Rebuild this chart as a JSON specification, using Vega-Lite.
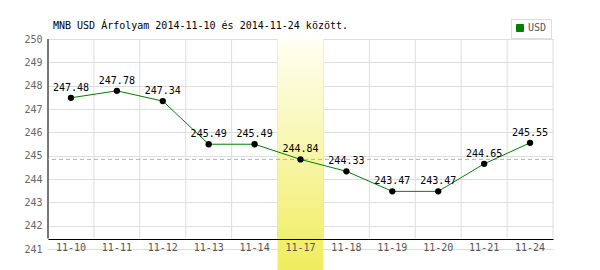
{
  "$schema": "https://vega.github.io/schema/vega-lite/v6.json",
  "width": 505,
  "height": 210,
  "autosize": {"type": "none"},
  "padding": {"left": 48, "top": 39, "right": 47, "bottom": 21},
  "background": "white",
  "config": {
    "view": {"stroke": null},
    "font": "DejaVu Sans Mono",
    "axisY": {"grid": true, "gridColor": "#dddddd", "gridWidth": 1, "domain": false, "ticks": false, "labelColor": "#666666", "labelFontSize": 10, "labelFont": "DejaVu Sans Mono", "labelPadding": 6, "labelOverlap": false, "labelFlush": false, "labelBound": false, "title": null, "zindex": 0},
    "axisX": {"grid": false, "domain": true, "domainColor": "#000000", "domainWidth": 1, "ticks": false, "labelAngle": 0, "labelColor": "#555555", "labelFontSize": 10, "labelFont": "DejaVu Sans Mono", "labelPadding": 3, "title": null, "zindex": 1}
  },
  "title": {"text": "MNB USD Árfolyam 2014-11-10 és 2014-11-24 között.", "anchor": "start", "frame": "group", "fontSize": 10, "fontWeight": "normal", "font": "DejaVu Sans Mono", "color": "#000000", "offset": 12, "dx": 5, "dy": 24},
  "data": {"values": [
    {"d": "11-10", "v": 247.48},
    {"d": "11-11", "v": 247.78},
    {"d": "11-12", "v": 247.34},
    {"d": "11-13", "v": 245.49},
    {"d": "11-14", "v": 245.49},
    {"d": "11-17", "v": 244.84},
    {"d": "11-18", "v": 244.33},
    {"d": "11-19", "v": 243.47},
    {"d": "11-20", "v": 243.47},
    {"d": "11-21", "v": 244.65},
    {"d": "11-24", "v": 245.55}
  ]},
  "layer": [
    {
      "mark": {"type": "rule", "color": "#dddddd", "strokeWidth": 1},
      "encoding": {
        "x": {"field": "d", "type": "nominal", "sort": null, "bandPosition": 0, "scale": {"paddingInner": 0, "paddingOuter": 0}, "axis": {"offset": -10, "title": null, "zindex": 1}},
        "y": {"datum": 250, "type": "quantitative", "scale": {"domain": [241, 250], "nice": false, "zero": false}, "axis": {"values": [241, 242, 243, 244, 245, 246, 247, 248, 249, 250], "title": null, "labelOverlap": false}},
        "y2": {"datum": 241.45}
      }
    },
    {
      "transform": [{"filter": "datum.d == '11-24'"}],
      "mark": {"type": "rule", "color": "#dddddd", "strokeWidth": 1},
      "encoding": {
        "x": {"field": "d", "type": "nominal", "sort": null, "bandPosition": 1, "axis": {"offset": -10, "title": null, "zindex": 1}},
        "y": {"datum": 250, "type": "quantitative", "axis": {"values": [241, 242, 243, 244, 245, 246, 247, 248, 249, 250], "title": null, "labelOverlap": false}},
        "y2": {"datum": 241.45}
      }
    },
    {
      "transform": [{"filter": "datum.d == '11-17'"}],
      "mark": {"type": "rect", "fill": {"gradient": "linear", "x1": 0, "y1": 0, "x2": 0, "y2": 1, "stops": [{"offset": 0, "color": "#fffff2"}, {"offset": 1, "color": "#f0ec5e"}]}},
      "encoding": {
        "x": {"field": "d", "type": "nominal", "sort": null, "axis": {"offset": -10, "title": null, "zindex": 1}},
        "y": {"datum": 250, "type": "quantitative", "axis": {"values": [241, 242, 243, 244, 245, 246, 247, 248, 249, 250], "title": null, "labelOverlap": false}},
        "y2": {"datum": 240.1}
      }
    },
    {
      "transform": [{"filter": "datum.d == '11-10'"}],
      "mark": {"type": "rule", "color": "#000000", "strokeWidth": 1},
      "encoding": {
        "x": {"field": "d", "type": "nominal", "sort": null, "bandPosition": 0, "axis": {"offset": -10, "title": null, "zindex": 1}},
        "y": {"datum": 250, "type": "quantitative", "axis": {"values": [241, 242, 243, 244, 245, 246, 247, 248, 249, 250], "title": null, "labelOverlap": false}},
        "y2": {"datum": 241.45}
      }
    },
    {
      "transform": [{"filter": "datum.d == '11-17'"}],
      "mark": {"type": "rule", "color": "#8fcc8f", "strokeWidth": 1, "strokeDash": [4, 3]},
      "encoding": {
        "y": {"field": "v", "type": "quantitative", "axis": {"values": [241, 242, 243, 244, 245, 246, 247, 248, 249, 250], "title": null, "labelOverlap": false}}
      }
    },
    {
      "mark": {"type": "line", "interpolate": "linear", "strokeWidth": 1},
      "encoding": {
        "x": {"field": "d", "type": "nominal", "sort": null, "axis": {"offset": -10, "title": null, "zindex": 1}},
        "y": {"field": "v", "type": "quantitative", "axis": {"values": [241, 242, 243, 244, 245, 246, 247, 248, 249, 250], "title": null, "labelOverlap": false}},
        "color": {"datum": "USD", "type": "nominal", "scale": {"range": ["#008000"]},
          "legend": {"title": null, "orient": "none", "legendX": 463, "legendY": -20, "padding": 4, "strokeColor": "#dddddd", "fillColor": "#ffffff", "labelFont": "DejaVu Sans Mono", "labelFontSize": 10, "labelColor": "#555555", "labelOffset": 3, "symbolType": "square", "symbolSize": 49,
            "encode": {"symbols": {"update": {"fill": {"value": "#008000"}, "stroke": {"value": "#555555"}, "strokeWidth": {"value": 1}, "shape": {"value": "square"}, "fillOpacity": {"value": 1}}}}}}
      }
    },
    {
      "mark": {"type": "circle", "color": "#000000", "size": 40, "opacity": 1},
      "encoding": {
        "x": {"field": "d", "type": "nominal", "sort": null, "axis": {"offset": -10, "title": null, "zindex": 1}},
        "y": {"field": "v", "type": "quantitative", "axis": {"values": [241, 242, 243, 244, 245, 246, 247, 248, 249, 250], "title": null, "labelOverlap": false}}
      }
    },
    {
      "mark": {"type": "text", "color": "#000000", "font": "DejaVu Sans Mono", "fontSize": 10, "baseline": "alphabetic", "dy": -7},
      "encoding": {
        "x": {"field": "d", "type": "nominal", "sort": null, "axis": {"offset": -10, "title": null, "zindex": 1}},
        "y": {"field": "v", "type": "quantitative", "axis": {"values": [241, 242, 243, 244, 245, 246, 247, 248, 249, 250], "title": null, "labelOverlap": false}},
        "text": {"field": "v", "type": "quantitative", "format": ".2f"}
      }
    }
  ]
}
